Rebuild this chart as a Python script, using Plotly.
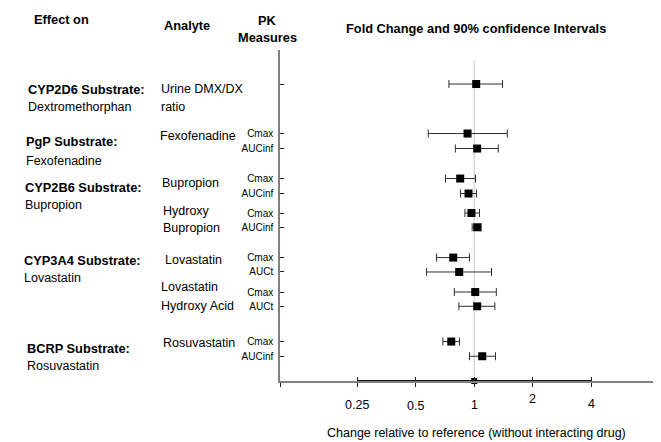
import math
import plotly.graph_objects as go

# ---------------- data ----------------
row_labels = ["", "Cmax", "AUCinf", "Cmax", "AUCinf", "Cmax", "AUCinf",
              "Cmax", "AUCt", "Cmax", "AUCt", "Cmax", "AUCinf"]
row_pos = [19.8, 16.5, 15.5, 13.5, 12.5, 11.2, 10.25, 8.23, 7.27, 5.93, 4.98, 2.63, 1.65]
ratio = [1.024, 0.924, 1.036, 0.847, 0.935, 0.968, 1.036, 0.78, 0.837, 1.012, 1.036, 0.762, 1.10]
ci_low = [0.741, 0.58, 0.80, 0.712, 0.85, 0.896, 0.976, 0.64, 0.568, 0.79, 0.834, 0.69, 0.946]
ci_high = [1.40, 1.48, 1.33, 1.016, 1.028, 1.065, 1.086, 0.946, 1.228, 1.30, 1.278, 0.84, 1.287]

tick_vals = [0.25, 0.5, 1, 2, 4]
tick_labels = ["0.25", "0.5", "1", "2", "4"]
tick_label_shift = [0, -1, 0, 6, 1]  # vertical offsets of the tick labels (px)

ref_value = 1
ref_low = 0.25
ref_high = 4

effect_groups = [("CYP2D6 Substrate:", "Dextromethorphan"),
                 ("PgP Substrate:", "Fexofenadine"),
                 ("CYP2B6 Substrate:", "Bupropion"),
                 ("CYP3A4 Substrate:", "Lovastatin"),
                 ("BCRP Substrate:", "Rosuvastatin")]
analyte_lines = ["Urine DMX/DX", "ratio", "Fexofenadine", "Bupropion", "Hydroxy",
                 "Bupropion", "Lovastatin", "Lovastatin", "Hydroxy Acid", "Rosuvastatin"]

# ---------------- layout geometry ----------------
PAGE_MARGIN = 8          # default body margin of the html page
W, H = 661 - PAGE_MARGIN, 442 - PAGE_MARGIN
L, R, T, B = 280 - PAGE_MARGIN, 0, 50 - PAGE_MARGIN, 61
PW, PH = W - L - R, H - T - B
YMAX = 22.07

FONT = "Liberation Sans, Arial, sans-serif"
BOLD = 12.8
NORM = 12.5


def px_x(px):
    return (px - PAGE_MARGIN - L) / PW


def px_y(py):
    return (H - B - (py - PAGE_MARGIN)) / PH


effect_pos = [(26, 89.3, 107.3), (24, 141.7, 161), (22.7, 187.7, 205),
              (22, 260, 277.7), (25, 348.3, 365.7)]
analyte_pos = [(158.7, 89.3), (158.7, 107.3), (158, 136), (160, 182.7), (161, 211),
               (161, 227.7), (162.7, 260), (159, 287.3), (159, 305.7), (161, 343.3)]

fig = go.Figure()

# reference line at 1
fig.add_trace(go.Scatter(
    x=[ref_value, ref_value], y=[0, 21.4], mode="lines",
    line=dict(color="#c8c8c8", width=1), hoverinfo="skip", showlegend=False))

# reference segment on the axis
fig.add_trace(go.Scatter(
    x=[ref_value], y=[0], mode="markers",
    marker=dict(symbol="square", size=6, color="black"),
    error_x=dict(type="data", symmetric=False,
                 array=[ref_high - ref_value], arrayminus=[ref_value - ref_low],
                 color="#111111", thickness=2, width=0),
    cliponaxis=False, showlegend=False))

# fold-change points with 90% CI
fig.add_trace(go.Scatter(
    x=ratio, y=row_pos, mode="markers",
    marker=dict(symbol="square", size=8, color="black"),
    error_x=dict(type="data", symmetric=False,
                 array=[h - r for h, r in zip(ci_high, ratio)],
                 arrayminus=[r - l for r, l in zip(ratio, ci_low)],
                 color="#303030", thickness=1, width=4),
    cliponaxis=False, showlegend=False))

ann = []
# headers
ann.append(dict(text="<b>Effect on</b>", x=px_x(31.7), y=px_y(19.3), xanchor="left",
                font=dict(size=BOLD)))
ann.append(dict(text="<b>Analyte</b>", x=px_x(186.5), y=px_y(25), xanchor="center",
                font=dict(size=BOLD)))
ann.append(dict(text="<b>PK</b>", x=px_x(267), y=px_y(20), xanchor="center",
                font=dict(size=BOLD)))
ann.append(dict(text="<b>Measures</b>", x=px_x(267.5), y=px_y(37.7), xanchor="center",
                font=dict(size=BOLD)))
ann.append(dict(text="<b>Fold Change and 90% confidence Intervals</b>", x=px_x(476),
                y=px_y(28.3), xanchor="center", font=dict(size=BOLD)))

for (head, drug), (xx, y1, y2) in zip(effect_groups, effect_pos):
    ann.append(dict(text="<b>" + head + "</b>", x=px_x(xx), y=px_y(y1), xanchor="left",
                    font=dict(size=BOLD)))
    ann.append(dict(text=drug, x=px_x(xx), y=px_y(y2), xanchor="left",
                    font=dict(size=NORM)))

for txt, (xx, yy) in zip(analyte_lines, analyte_pos):
    ann.append(dict(text=txt, x=px_x(xx), y=px_y(yy), xanchor="left",
                    font=dict(size=NORM)))

# x tick labels
for v, lab, sh in zip(tick_vals, tick_labels, tick_label_shift):
    ann.append(dict(text=lab, x=math.log10(v), xref="x", y=px_y(405), yshift=sh,
                    xanchor="center", font=dict(size=NORM)))

# x-axis title
ann.append(dict(text="Change relative to reference (without interacting drug)",
                x=px_x(476), y=px_y(433.3), xanchor="center", font=dict(size=NORM)))

for a in ann:
    a.setdefault("xref", "paper")
    a["yref"] = "paper"
    a["yanchor"] = "middle"
    a["showarrow"] = False
    a["font"] = dict(family=FONT, color="black", size=a["font"]["size"])

xticks = [0.1] + tick_vals

fig.update_layout(
    width=W, height=H,
    margin=dict(l=L, r=R, t=T, b=B, pad=0),
    paper_bgcolor="white", plot_bgcolor="white",
    font=dict(family=FONT, color="black"),
    annotations=ann,
    xaxis=dict(type="log", range=[-1, 0.962],
               showgrid=False, zeroline=False,
               showline=True, linecolor="#808080", linewidth=1.5,
               tickvals=xticks, ticks="outside", ticklen=4, tickcolor="#222222",
               tickwidth=1, showticklabels=False),
    xaxis2=dict(type="log", overlaying="x", matches="x", anchor="y", side="bottom",
                showgrid=False, zeroline=False, showline=False,
                tickvals=xticks, ticks="inside", ticklen=4, tickcolor="#222222",
                tickwidth=1, showticklabels=False),
    yaxis=dict(range=[0, YMAX], showgrid=False, zeroline=False,
               showline=True, linecolor="#808080", linewidth=1.5,
               tickvals=row_pos, ticktext=row_labels, ticks="inside", ticklen=4,
               tickcolor="#222222", tickwidth=1, ticklabelstandoff=3,
               tickfont=dict(family=FONT, size=10, color="black")),
)

# invisible trace that activates the overlaid tick axis
fig.add_trace(go.Scatter(x=[1], y=[0], xaxis="x2", mode="markers",
                         marker=dict(opacity=0), hoverinfo="skip", showlegend=False))

fig.write_html("out.html")
